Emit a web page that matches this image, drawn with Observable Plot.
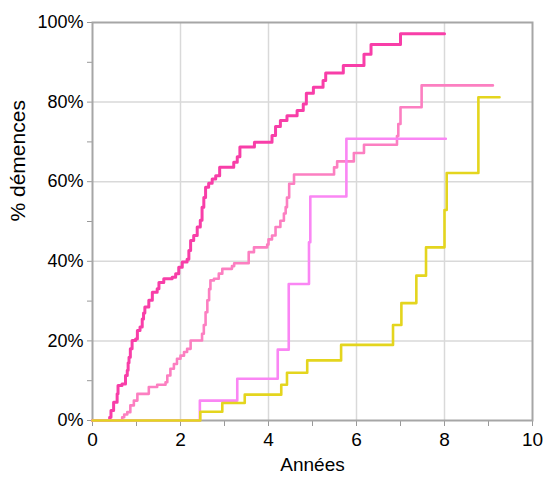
<!DOCTYPE html>
<html><head><meta charset="utf-8">
<script src="https://cdn.jsdelivr.net/npm/d3@7"></script>
<script src="https://cdn.jsdelivr.net/npm/@observablehq/plot@0.6"></script>
<style>body{margin:0;background:#fff}</style>
</head><body><div id="chart"></div>
<script>
// Series data (years, cumulative % dementia)
const seriesNames = ["A", "B", "C", "D"];
const seriesColors = ["#f83ea8", "#fc7fc1", "#fa86f4", "#e4d51e"];

const aYears = [0, 0.39, 0.42, 0.48, 0.56, 0.58, 0.67, 0.75, 0.79, 0.81, 0.83, 0.86, 0.90, 0.98, 1.02, 1.08, 1.13, 1.16, 1.19, 1.28, 1.36, 1.47, 1.51, 1.62, 1.81, 1.89, 1.96, 2.04, 2.15, 2.19, 2.23, 2.30, 2.38, 2.45, 2.49, 2.53, 2.57, 2.64, 2.72, 2.80, 2.89, 3.21, 3.29, 3.35, 3.68, 4.08, 4.16, 4.27, 4.42, 4.65, 4.79, 4.86, 5.02, 5.24, 5.30, 5.70, 6.17, 6.33, 7.0];
const aPct   = [0, 0.8, 2.5, 4.6, 6.7, 8.8, 9.2, 11.3, 12.6, 14.5, 15.9, 18.0, 20.1, 20.5, 22.6, 23.5, 25.5, 27.0, 28.5, 30.2, 32.2, 33.1, 34.7, 35.6, 36.0, 36.9, 38.5, 39.8, 40.5, 42.7, 45.2, 46.5, 48.6, 50.3, 53.6, 56.0, 58.6, 59.6, 60.7, 61.5, 63.6, 64.9, 66.3, 68.7, 69.9, 71.6, 73.9, 75.4, 76.6, 77.9, 79.5, 82.2, 83.7, 85.4, 87.3, 89.2, 92.0, 94.5, 97.2];
const aEnd = 8.0;

const bYears = [0, 0.675, 0.72, 0.79, 0.86, 0.94, 1.02, 1.28, 1.47, 1.66, 1.70, 1.77, 1.85, 1.92, 2.0, 2.08, 2.15, 2.23, 2.49, 2.53, 2.57, 2.61, 2.65, 2.68, 2.76, 2.87, 2.95, 3.17, 3.22, 3.55, 3.67, 3.97, 4.0, 4.08, 4.16, 4.27, 4.35, 4.39, 4.42, 4.47, 4.58, 5.49, 5.56, 5.94, 6.17, 6.92, 6.95, 7.0, 7.48];
const bPct   = [0, 0.8, 1.5, 2.1, 3.8, 5.0, 6.7, 8.4, 9.0, 9.6, 11.3, 13.0, 14.2, 15.5, 16.3, 17.2, 18.0, 20.1, 21.8, 24.0, 27.2, 30.2, 33.0, 35.2, 35.6, 36.9, 38.1, 38.8, 39.5, 42.3, 43.5, 44.2, 45.5, 46.5, 48.6, 50.2, 52.0, 53.6, 56.0, 59.5, 61.8, 63.6, 65.1, 67.2, 69.3, 71.5, 74.5, 78.7, 84.2];
const bEnd = 9.1;

const cYears = [0, 2.44, 3.29, 4.21, 4.46, 4.92, 4.95, 5.77];
const cPct   = [0, 5.0, 10.5, 17.8, 34.3, 44.8, 56.3, 70.8];
const cEnd = 8.03;

const dYears = [0, 2.45, 2.95, 3.46, 4.29, 4.42, 4.88, 5.65, 6.83, 7.02, 7.36, 7.58, 8.0, 8.05, 8.77];
const dPct   = [0, 2.2, 4.4, 6.5, 9.0, 12.0, 15.1, 19.0, 24.0, 29.5, 36.4, 43.5, 52.9, 62.2, 81.2];
const dEnd = 9.25;

const xTicks = [0, 2, 4, 6, 8, 10];
const yTicks = [0, 20, 40, 60, 80, 100];
const xLabel = "Années";
const yLabel = "% démences";

function rows(years, pct, end) {
  const r = years.map((x, i) => ({x, y: pct[i]}));
  r.push({x: end, y: pct[pct.length - 1]});
  return r;
}
const allSeries = [rows(aYears, aPct, aEnd), rows(bYears, bPct, bEnd), rows(cYears, cPct, cEnd), rows(dYears, dPct, dEnd)];

const font = "'Liberation Sans Narrow', 'Liberation Sans', Arial, sans-serif";

const lineMarks = [0, 1, 2, 3].map(i =>
  Plot.line(allSeries[i], {x: "x", y: "y", curve: "step-after", stroke: seriesColors[i], strokeWidth: i === 0 ? 3 : 2.6})
);

const chart = Plot.plot({
  width: 543,
  height: 481,
  marginLeft: 92,
  marginRight: 11,
  marginTop: 22,
  marginBottom: 61,
  style: {fontFamily: font, fontSize: "17px", color: "#000", background: "#fff"},
  x: {domain: [0, 10]},
  y: {domain: [0, 100]},
  marks: [
    Plot.gridX(xTicks.slice(1, -1), {stroke: "#d9d9d9", strokeOpacity: 1, strokeWidth: 1.5}),
    Plot.gridY(yTicks.slice(1, -1), {stroke: "#d9d9d9", strokeOpacity: 1, strokeWidth: 1.5}),
    Plot.axisX(d3.range(0, 11, 1), {tickSize: 6, tickPadding: 6, stroke: "#999",
      tickFormat: d => d % 2 === 0 ? String(d) : "", fontSize: 19,
      label: xLabel, labelAnchor: "center", labelArrow: "none", labelOffset: 50}),
    Plot.axisY(d3.range(0, 101, 10), {tickSize: 5, tickPadding: 4, stroke: "#999",
      tickFormat: d => d % 20 === 0 ? d + "%" : "", fontSize: 18, label: null}),
    Plot.text([yLabel], {frameAnchor: "left", dx: -74, rotate: -90, fontSize: 21, fill: "#000"}),
    Plot.frame({stroke: "#a6a6a6", strokeWidth: 2}),
    ...lineMarks
  ]
});
document.getElementById("chart").append(chart);
</script>
</body></html>
